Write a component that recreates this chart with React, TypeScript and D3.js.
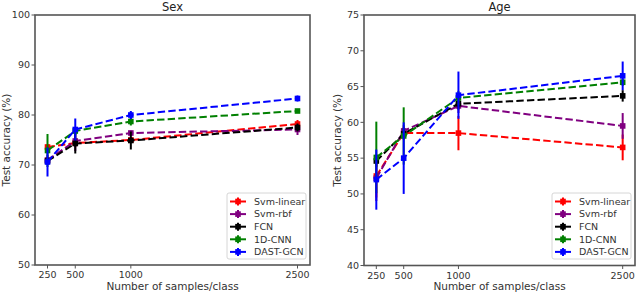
import React from "react";
import * as d3 from "d3";

const samples = [250, 500, 1000, 2500];
const methods = ["Svm-linear", "Svm-rbf", "FCN", "1D-CNN", "DAST-GCN"];
const colors = ["#ff0000", "#800080", "#000000", "#008000", "#0000ff"];

// Sex panel
const sexMeans = [
  [73.6, 74.4, 75.0, 78.2],
  [71.0, 74.8, 76.4, 77.1],
  [70.8, 74.3, 74.9, 77.5],
  [72.9, 76.8, 78.7, 80.8],
  [70.6, 77.1, 80.0, 83.3],
];
const sexErrs = [
  [0.6, 0.8, 0.6, 0.8],
  [1.0, 2.0, 0.5, 1.1],
  [0.8, 2.0, 1.8, 0.8],
  [3.3, 0.8, 0.8, 0.4],
  [2.9, 2.2, 0.8, 0.6],
];
// Age panel
const ageMeans = [
  [52.5, 58.5, 58.5, 56.5],
  [52.2, 58.8, 62.3, 59.5],
  [54.6, 58.4, 62.6, 63.7],
  [55.1, 58.1, 63.4, 65.6],
  [52.0, 55.0, 63.8, 66.5],
];
const ageErrs = [
  [3.0, 0.8, 2.4, 1.8],
  [3.2, 0.8, 1.0, 1.8],
  [0.8, 0.8, 0.8, 0.8],
  [5.0, 4.0, 1.0, 0.5],
  [4.2, 5.0, 3.3, 2.0],
];

const xTicks = [250, 500, 1000, 2500];
const sexTicks = [50, 60, 70, 80, 90, 100];
const ageTicks = [40, 45, 50, 55, 60, 65, 70, 75];

const FONT = "'DejaVu Sans', sans-serif";

type PanelProps = {
  title: string;
  means: number[][];
  errs: number[][];
  yDomain: [number, number];
  yTicks: number[];
  x0: number;
  x1: number;
  y0: number;
  y1: number;
  ylabelX: number;
};

function Panel({ title, means, errs, yDomain, yTicks, x0, x1, y0, y1, ylabelX }: PanelProps) {
  const x = d3.scaleLinear().domain([137.5, 2612.5]).range([x0, x1]);
  const y = d3.scaleLinear().domain(yDomain).range([y1, y0]);
  const line = d3
    .line<number>()
    .x((_, i) => x(samples[i]))
    .y((d) => y(d));
  const axisColor = "#555";
  const textColor = "#333";
  const legX = x1 - 83;
  const legY = 193;
  return (
    <g>
      <text x={(x0 + x1) / 2} y={y0 - 4} textAnchor="middle" fontSize={11.5} fontFamily={FONT} fill="#222">
        {title}
      </text>
      {means.map((m, s) => (
        <g key={s}>
          <path d={line(m) || ""} fill="none" stroke={colors[s]} strokeWidth={2} strokeDasharray="7.4,3.2" />
          {m.map((v, i) => (
            <g key={i}>
              <line
                x1={x(samples[i])}
                x2={x(samples[i])}
                y1={y(v - errs[s][i])}
                y2={y(v + errs[s][i])}
                stroke={colors[s]}
                strokeWidth={2}
              />
              <rect x={x(samples[i]) - 2.8} y={y(v) - 2.8} width={5.6} height={5.6} fill={colors[s]} />
            </g>
          ))}
        </g>
      ))}
      <rect x={x0} y={y0} width={x1 - x0} height={y1 - y0} fill="none" stroke={axisColor} strokeWidth={1.6} />
      {yTicks.map((t) => (
        <g key={t}>
          <line x1={x0 - 3.5} x2={x0} y1={y(t)} y2={y(t)} stroke={axisColor} strokeWidth={1} />
          <text x={x0 - 5} y={y(t)} dy="0.35em" textAnchor="end" fontSize={9.5} fontFamily={FONT} fill={textColor}>
            {t}
          </text>
        </g>
      ))}
      {xTicks.map((t) => (
        <g key={t}>
          <line x1={x(t)} x2={x(t)} y1={y1} y2={y1 + 3.5} stroke={axisColor} strokeWidth={1} />
          <text x={x(t)} y={y1 + 13} textAnchor="middle" fontSize={9.5} fontFamily={FONT} fill={textColor}>
            {t}
          </text>
        </g>
      ))}
      <text x={(x0 + x1) / 2} y={290} textAnchor="middle" fontSize={10.5} fontFamily={FONT} fill={textColor}>
        Number of samples/class
      </text>
      <text
        transform={`translate(${ylabelX},${(y0 + y1) / 2}) rotate(-90)`}
        textAnchor="middle"
        fontSize={10.5}
        fontFamily={FONT}
        fill={textColor}
      >
        Test accuracy (%)
      </text>
      <rect x={legX} y={legY} width={79} height={66} rx={2} fill="#fff" fillOpacity={0.85} stroke="#ccc" strokeWidth={0.8} />
      {methods.map((name, s) => {
        const ly = legY + 8.5 + s * 12.6;
        return (
          <g key={name}>
            <line x1={legX + 3} x2={legX + 19} y1={ly} y2={ly} stroke={colors[s]} strokeWidth={2} />
            <line x1={legX + 11} x2={legX + 11} y1={ly - 4} y2={ly + 4} stroke={colors[s]} strokeWidth={2} />
            <rect x={legX + 8.2} y={ly - 2.8} width={5.6} height={5.6} fill={colors[s]} />
            <text x={legX + 27} y={ly} dy="0.35em" fontSize={9.5} fontFamily={FONT} fill={textColor}>
              {name}
            </text>
          </g>
        );
      })}
    </g>
  );
}

export default function App() {
  return (
    <svg width={640} height={293} style={{ position: "absolute", left: 0, top: 0 }}>
      <rect width={640} height={293} fill="#fff" />
      <Panel
        title="Sex"
        means={sexMeans}
        errs={sexErrs}
        yDomain={[50, 100]}
        yTicks={sexTicks}
        x0={35}
        x1={310}
        y0={15}
        y1={265}
        ylabelX={10}
      />
      <Panel
        title="Age"
        means={ageMeans}
        errs={ageErrs}
        yDomain={[40, 75]}
        yTicks={ageTicks}
        x0={364}
        x1={635}
        y0={15}
        y1={265.5}
        ylabelX={341}
      />
    </svg>
  );
}
